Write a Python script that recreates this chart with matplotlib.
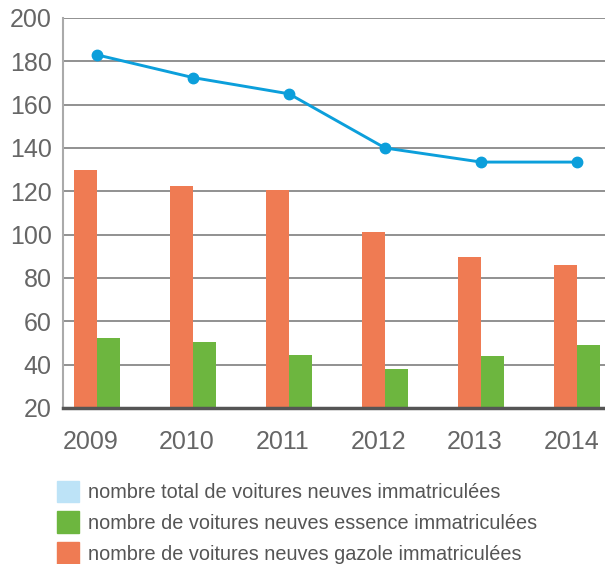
import numpy as np
import matplotlib.pyplot as plt
import matplotlib.transforms as mtransforms
from matplotlib.patches import Patch

plt.rcParams['font.family'] = ['Liberation Sans', 'DejaVu Sans']

years = ['2009', '2010', '2011', '2012', '2013', '2014']
total = [183, 172.5, 165, 140, 133.5, 133.5]
essence = [52.3, 50.5, 44.5, 38, 44, 49]
gazole = [130, 122.5, 120.6, 101.2, 89.7, 86]

labels = ['nombre total de voitures neuves immatriculées',
          'nombre de voitures neuves essence immatriculées',
          'nombre de voitures neuves gazole immatriculées']

c_orange = '#EF7B53'
c_green = '#6DB63F'
c_blue = '#0C9FDB'
c_lightblue = '#BDE3F7'
grey = '#666666'

fig = plt.figure(figsize=(6.05, 5.64), dpi=100)
ax = fig.add_axes([0.104, 0.2766, 0.896, 0.6915])

x = np.arange(len(years))
w = 0.24
ax.bar(x - w / 2, np.array(gazole) - 20, w, bottom=20, color=c_orange, zorder=2)
ax.bar(x + w / 2, np.array(essence) - 20, w, bottom=20, color=c_green, zorder=2)
ax.plot(x, total, color=c_blue, lw=2.1, marker='o', ms=7.5, zorder=3)

ax.set_ylim(20, 200)
ax.set_xlim(-0.354, 5.29)
ax.set_yticks(range(20, 201, 20))
ax.set_xticks(x)
ax.set_xticklabels(years)
ax.yaxis.grid(True, color='#888888', lw=1.3, zorder=0)
ax.tick_params(axis='both', length=0, labelsize=18, colors=grey)
ax.tick_params(axis='x', pad=16)
ax.tick_params(axis='y', pad=8)
# labels sit a little left of the bar groups
shift = mtransforms.ScaledTranslation(-6 / 100, 0, fig.dpi_scale_trans)
for lab in ax.get_xticklabels():
    lab.set_transform(lab.get_transform() + shift)
for s in ['top', 'right']:
    ax.spines[s].set_visible(False)
ax.spines['left'].set_color('#aaaaaa')
ax.spines['left'].set_linewidth(1.5)
ax.spines['bottom'].set_color('#555555')
ax.spines['bottom'].set_linewidth(2.5)
ax.spines['bottom'].set_zorder(4)

handles = [Patch(color=c_lightblue), Patch(color=c_green), Patch(color=c_orange)]
leg = fig.legend(handles, labels, loc='upper left', bbox_to_anchor=(0.094, 0.148),
                 frameon=False, fontsize=14.3, handlelength=1.1, handleheight=1.32,
                 handletextpad=0.45, labelspacing=0.45, borderpad=0, borderaxespad=0)
for t in leg.get_texts():
    t.set_color('#555555')

fig.savefig('out.png', dpi=100)
